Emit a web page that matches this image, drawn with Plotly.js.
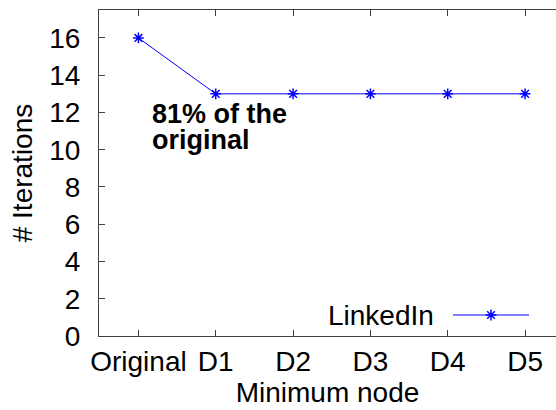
<!DOCTYPE html>
<html>
<head>
<meta charset="utf-8">
<script src="https://cdn.plot.ly/plotly-3.0.1.min.js"></script>
<style>html,body{margin:0;padding:0;background:#fff;}#chart{width:556px;height:410px;}</style>
</head>
<body>
<div id="chart"></div>
<script>
const categories = ['Original', 'D1', 'D2', 'D3', 'D4', 'D5'];
const iterations = [16, 13, 13, 13, 13, 13];
const seriesName = 'LinkedIn';
const yTicks = [0, 2, 4, 6, 8, 10, 12, 14, 16];
const noteLines = ['81% of the', 'original'];

const FONT = 'Liberation Sans, Arial, sans-serif';
const BLUE = '#0000ff';
const AX = '#404040';

const traces = [
  {
    x: categories,
    y: iterations,
    name: seriesName,
    mode: 'lines+markers',
    line: {color: BLUE, width: 1},
    marker: {symbol: 'asterisk-open', size: 9, color: BLUE, line: {color: BLUE, width: 1.5}},
    showlegend: false,
    xaxis: 'x', yaxis: 'y'
  },
  // legend key (line + marker) drawn on an overlay axis in the legend area
  {
    x: [0, 0.5, 1],
    y: [0.5, 0.5, 0.5],
    mode: 'lines',
    line: {color: BLUE, width: 1},
    showlegend: false, hoverinfo: 'skip',
    xaxis: 'x2', yaxis: 'y2'
  },
  {
    x: [0.5],
    y: [0.5],
    mode: 'markers',
    marker: {symbol: 'asterisk-open', size: 9, color: BLUE, line: {color: BLUE, width: 1.5}},
    showlegend: false, hoverinfo: 'skip',
    xaxis: 'x2', yaxis: 'y2'
  }
];

const layout = {
  width: 556,
  height: 410,
  margin: {l: 99, r: 0, t: 10, b: 74},
  paper_bgcolor: '#fff',
  plot_bgcolor: '#fff',
  font: {family: FONT, size: 28, color: '#000'},
  showlegend: false,
  xaxis: {
    type: 'category',
    range: [-0.51, 5.4],
    showgrid: false,
    zeroline: false,
    showline: true,
    linecolor: AX,
    linewidth: 1,
    mirror: 'ticks',
    ticks: 'inside',
    ticklen: 6,
    tickcolor: AX,
    tickfont: {family: FONT, size: 28, color: '#000'},
    ticklabelstandoff: 0,
    title: {text: 'Minimum node', font: {family: FONT, size: 28, color: '#000'}, standoff: 1}
  },
  yaxis: {
    range: [0, 17.5],
    tickvals: yTicks,
    ticktext: yTicks.map(String),
    showgrid: false,
    zeroline: false,
    showline: true,
    linecolor: AX,
    linewidth: 1,
    ticks: 'inside',
    ticklen: 6,
    tickcolor: AX,
    tickfont: {family: FONT, size: 28, color: '#000'},
    ticklabelstandoff: 12,
    title: {text: '# Iterations', font: {family: FONT, size: 28, color: '#000'}, standoff: 8}
  },
  xaxis2: {domain: [(453 - 99) / 457, (529 - 99) / 457], range: [0, 1], visible: false, fixedrange: true},
  yaxis2: {domain: [(336 - 325) / 326, (336 - 305) / 326], range: [0, 1], visible: false, fixedrange: true, anchor: 'x2'},
  annotations: [
    {
      x: 0.145, y: 12.82, xref: 'x', yref: 'y',
      xanchor: 'left', yanchor: 'top',
      text: '<b>' + noteLines[0] + '</b>',
      showarrow: false,
      font: {family: FONT, size: 27, color: '#000'}
    },
    {
      x: 0.145, y: 11.42, xref: 'x', yref: 'y',
      xanchor: 'left', yanchor: 'top',
      text: '<b>' + noteLines[1] + '</b>',
      showarrow: false,
      font: {family: FONT, size: 27, color: '#000'}
    },
    {
      x: (436 - 99) / 457, y: (336 - 315) / 326, xref: 'paper', yref: 'paper',
      xanchor: 'right', yanchor: 'middle',
      text: seriesName,
      showarrow: false,
      font: {family: FONT, size: 28, color: '#000'}
    }
  ]
};

Plotly.newPlot('chart', traces, layout, {displayModeBar: false, staticPlot: true});
</script>
</body>
</html>
